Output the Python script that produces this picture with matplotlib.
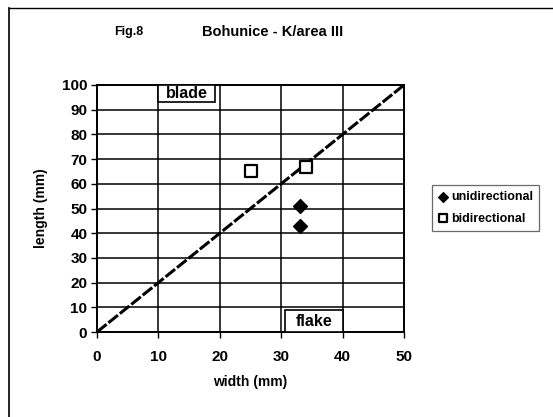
import numpy as np
import matplotlib.pyplot as plt
from matplotlib.lines import Line2D
from matplotlib.patches import Rectangle

# Data #
uni_w = [33, 33]
uni_l = [51, 43]
bi_w = [25, 34]
bi_l = [65, 67]
ref_x = [0, 50]
ref_y = [0, 100]
xticks = [0, 10, 20, 30, 40, 50]
yticks = [0, 10, 20, 30, 40, 50, 60, 70, 80, 90, 100]
# -------- #

plt.rcParams['font.family'] = ['Liberation Sans', 'DejaVu Sans']
plt.rcParams['font.weight'] = 'bold'

W, H = 553, 417
fig = plt.figure(figsize=(W / 100, H / 100), dpi=100)
ax = fig.add_axes([97 / W, (H - 332) / H, (404 - 97) / W, (332 - 85) / H])

# outer chart frame (left and top edges)
fig.add_artist(Line2D([9 / W, 9 / W], [0, 1 - 8 / H], color='black', lw=1.2))
fig.add_artist(Line2D([9 / W, 1], [1 - 8 / H, 1 - 8 / H], color='black', lw=1.0))

ax.plot(ref_x, ref_y, color='black', lw=2.2, ls=(0, (4, 0.8)), zorder=3)
ax.scatter(uni_w, uni_l, marker='D', s=50, color='black', zorder=4, label='unidirectional')
ax.scatter(bi_w, bi_l, marker='s', s=85, facecolor='white', edgecolor='black',
           linewidth=1.6, zorder=4, label='bidirectional')

ax.set_xlim(0, 50)
ax.set_ylim(0, 100)
ax.set_xticks(xticks)
ax.set_yticks(yticks)
ax.grid(True, color='black', lw=1.1)
ax.set_axisbelow(True)
for s in ax.spines.values():
    s.set_linewidth(1.4)
ax.tick_params(direction='out', length=4, width=1, labelsize=11, pad=3)
for lab in ax.get_xticklabels() + ax.get_yticklabels():
    lab.set_fontweight('bold')
ax.tick_params(axis='x', pad=9)

ax.set_xlabel('width (mm)', fontsize=10, fontweight='bold', labelpad=8)
ax.set_ylabel('length (mm)', fontsize=10, fontweight='bold', labelpad=10)

# text boxes inside plot
ax.add_patch(Rectangle((10, 93), 9.2, 7, fc='white', ec='black', lw=1.2, zorder=5))
ax.text(14.6, 96.5, 'blade', ha='center', va='center', fontsize=11.5,
        fontweight='bold', zorder=6)
ax.add_patch(Rectangle((30.6, 0), 9.4, 9, fc='white', ec='black', lw=1.2, zorder=5))
ax.text(35.3, 4.3, 'flake', ha='center', va='center', fontsize=11.5,
        fontweight='bold', zorder=6)

fig.text(129 / W, 1 - 32 / H, 'Fig.8', ha='center', va='center', fontsize=9, fontweight='bold')
fig.text(273 / W, 1 - 32 / H, 'Bohunice - K/area III', ha='center', va='center',
         fontsize=10.5, fontweight='bold')

leg = fig.legend(loc='center left', bbox_to_anchor=(432 / W, 1 - 208 / H), frameon=True,
                 fancybox=False, edgecolor='#444444', fontsize=9, handletextpad=0.2,
                 handlelength=0.8, borderpad=0.5, labelspacing=0.75, borderaxespad=0,
                 markerscale=0.7)
leg.get_frame().set_linewidth(0.9)
for t in leg.get_texts():
    t.set_fontweight('bold')

fig.savefig('out.png', dpi=100)
